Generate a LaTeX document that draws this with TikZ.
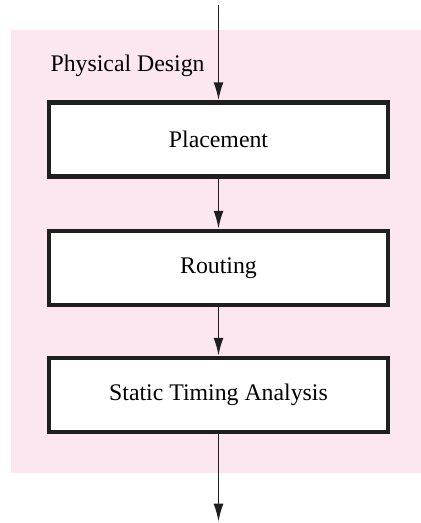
\documentclass[tikz,border=0pt]{standalone}
\usepackage{fontspec}
\setmainfont{Liberation Serif}
\usetikzlibrary{arrows.meta}
\definecolor{designpink}{RGB}{252,231,240}

\begin{document}
\begin{tikzpicture}[x=1pt,y=-1pt,
  stagebox/.style={draw=black!88,line width=4.5pt,fill=white,minimum width=339pt,minimum height=74pt,
    font=\fontsize{23.8}{28}\selectfont},
  flow/.style={draw=black!88,line width=1.8pt,-{Latex[length=18pt,width=10pt]}}]
\useasboundingbox (0,0) rectangle (421,523);
\fill[designpink] (11,30) rectangle (421,472.7);
\node[anchor=base west,font=\fontsize{23.8}{28}\selectfont] (title) at (47,71) {Physical Design};

\node[stagebox] (place) at (218.5,139.5) {Placement};
\node[stagebox] (route) at (218.5,268) {Routing};
\node[stagebox] (sta) at (218.5,395) {Static Timing Analysis};

\coordinate (in) at (218.5,5);
\coordinate (out) at (218.5,521.7);

\draw[flow] (in) -- (place);
\draw[flow] (place) -- (route);
\draw[flow] (route) -- (sta);
\draw[flow] (sta) -- (out);
\end{tikzpicture}
\end{document}
